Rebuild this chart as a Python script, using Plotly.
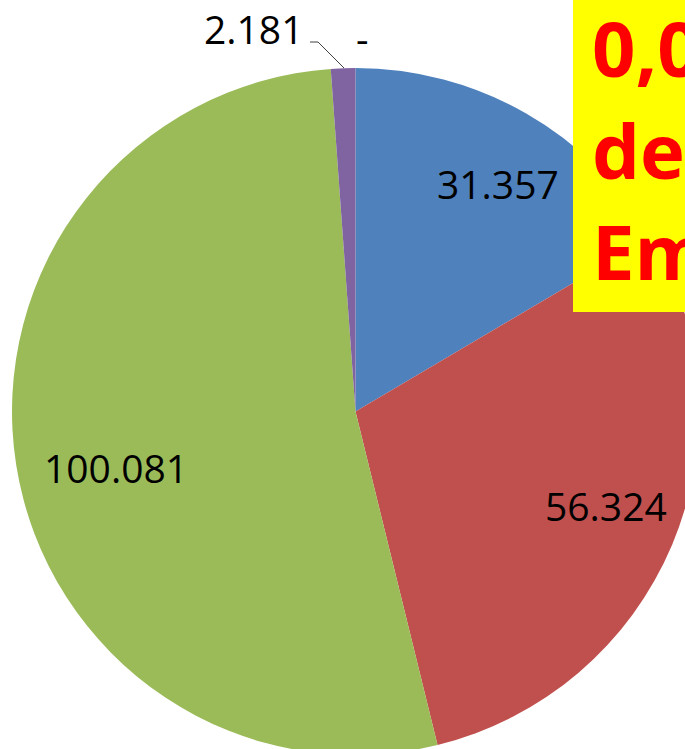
import plotly.graph_objects as go

# Data
categories = ["Série 1", "Série 2", "Série 3", "Série 4", "Série 5"]
values = [31357, 56324, 100081, 2181, 0]
colors = ["#4F81BD", "#C0504D", "#9BBB59", "#8064A2", "#4BACC6"]
box_lines = ["0,00%", "de", "Empresas"]

def fmt(v):
    return "-" if v == 0 else f"{v:,}".replace(",", ".")

labels_text = [fmt(v) for v in values]

# Layout geometry (pixels)
W, H = 700, 756
L, T = 12, 68
S = 687  # pie domain side


def px(x):
    return (x - L) / S


def py(y):
    return (T + S - y) / S


fig = go.Figure(
    go.Pie(
        labels=categories,
        values=values,
        marker=dict(colors=colors, line=dict(width=0)),
        sort=False,
        direction="clockwise",
        rotation=0,
        textinfo="none",
        hoverinfo="skip",
        showlegend=False,
    )
)

label_pos = [(498, 183), (606, 505), (116, 468), (253, 29), (362, 38)]
label_font = dict(family="Open Sans, Calibri, sans-serif", size=39, color="#000000")
annotations = []
for t, (x, y) in zip(labels_text, label_pos):
    annotations.append(
        dict(text=t, x=px(x), y=py(y), xref="paper", yref="paper",
             xanchor="center", yanchor="middle", showarrow=False, font=label_font)
    )

box_font = dict(family="Open Sans, Calibri, sans-serif", size=76, color="#FF0000")
for t, yc in zip(box_lines, [47, 149, 251]):
    annotations.append(
        dict(text=f"<b>{t}</b>", x=px(590), y=py(yc), xref="paper", yref="paper",
             xanchor="left", yanchor="middle", showarrow=False, font=box_font)
    )

shapes = [
    dict(type="rect", xref="paper", yref="paper", x0=px(573), x1=px(760),
         y0=py(312), y1=py(-20), fillcolor="#FFFF00", line=dict(width=0), layer="above"),
    dict(type="path", xref="paper", yref="paper",
         path=f"M {px(310)} {py(42)} L {px(318)} {py(42)} L {px(344)} {py(68)}",
         line=dict(color="#404040", width=1), layer="above"),
]

fig.update_layout(
    width=W,
    height=H,
    margin=dict(l=L, r=W - L - S, t=T, b=H - T - S, pad=0),
    paper_bgcolor="#FFFFFF",
    plot_bgcolor="#FFFFFF",
    annotations=annotations,
    shapes=shapes,
)

fig.write_html(
    "out.html",
    config={"displayModeBar": False},
    post_script="document.body.style.margin='0';document.body.style.overflow='hidden';document.documentElement.style.overflow='hidden';",
)
